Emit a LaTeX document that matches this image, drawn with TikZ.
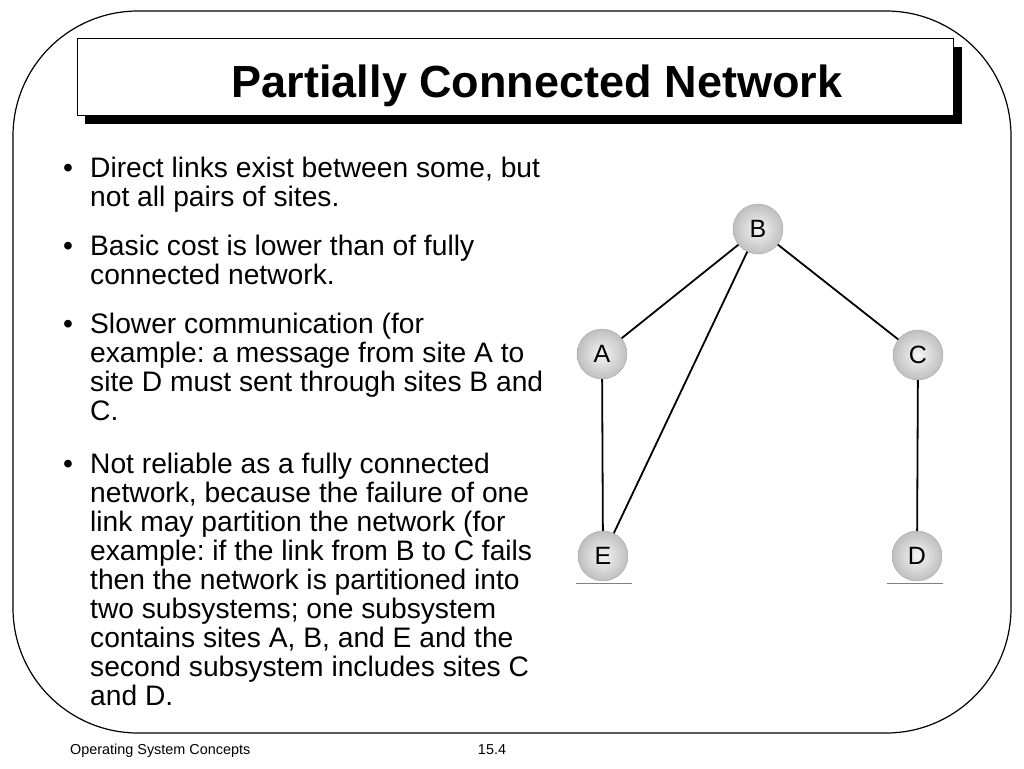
\documentclass[tikz,border=0pt]{standalone}
\usepackage{fontspec}
\setmainfont{Liberation Sans}
\usepackage{tikz}
\usetikzlibrary{shapes.geometric, positioning}
\frenchspacing

\tikzset{
    site/.style={circle, draw=gray!70, thin, inner color=gray!8, outer color=gray!50, minimum size=50pt, inner sep=0pt, font=\fontsize{25}{29}\selectfont}, % grey ball for a site
    link/.style={line width=1.8pt}, % line between two sites
    point/.style={anchor=base west, align=left, inner sep=0pt, font=\fontsize{28.2}{29}\selectfont} % one bullet point, placed at its last line
}

\begin{document}
\begin{tikzpicture}[x=1pt, y=-1pt]
    \useasboundingbox (0,0) rectangle (1024,768);

    % slide frame
    \draw[line width=1.2pt, rounded corners=125pt] (13,11) rectangle (1011,733);

    % title box with its shadow
    \fill[black] (85,47) rectangle (962,124);
    \draw[fill=white, line width=0.8pt] (77,38) rectangle (953,115);
    \node[anchor=base, inner sep=0pt, font=\fontsize{45}{50}\selectfont\bfseries] (title) at (537,97) {Partially Connected Network};

    % bullet points
    \node[point] (p1) at (63,206) {\makebox[27pt][l]{\textbullet}Direct links exist between some, but\\
        \hspace*{27pt}not all pairs of sites.};
    \node[point] (p2) at (63,284) {\makebox[27pt][l]{\textbullet}Basic cost is lower than of fully\\
        \hspace*{27pt}connected network.};
    \node[point] (p3) at (63,420) {\makebox[27pt][l]{\textbullet}Slower communication (for\\
        \hspace*{27pt}example: a message from site A to\\
        \hspace*{27pt}site D must sent through sites B and\\
        \hspace*{27pt}C.};
    \node[point] (p4) at (63,705) {\makebox[27pt][l]{\textbullet}Not reliable as a fully connected\\
        \hspace*{27pt}network, because the failure of one\\
        \hspace*{27pt}link may partition the network (for\\
        \hspace*{27pt}example: if the link from B to C fails\\
        \hspace*{27pt}then the network is partitioned into\\
        \hspace*{27pt}two subsystems; one subsystem\\
        \hspace*{27pt}contains sites A, B, and E and the\\
        \hspace*{27pt}second subsystem includes sites C\\
        \hspace*{27pt}and D.};

    % sites
    \node[site] (b) at (758,229) {B};
    \node[site] (a) at (602,354) {A};
    \node[site] (c) at (918,355) {C};
    \node[site] (e) at (603,556) {E};
    \node[site] (d) at (917,556) {D};

    % links
    \draw[link] (b) -- (a);
    \draw[link] (b) -- (e);
    \draw[link] (b) -- (c);
    \draw[link] (a) -- (e);
    \draw[link] (c) -- (d);

    % ground lines under E and D
    \draw[gray] ([xshift=-27pt, yshift=-2pt]e.south) -- ([xshift=29pt, yshift=-2pt]e.south);
    \draw[gray] ([xshift=-30pt, yshift=-2pt]d.south) -- ([xshift=26pt, yshift=-2pt]d.south);

    % footer
    \node[anchor=base west, inner sep=0pt, font=\fontsize{14.4}{17}\selectfont] (book) at (70,754) {Operating System Concepts};
    \node[anchor=base, inner sep=0pt, font=\fontsize{14.4}{17}\selectfont] (page) at (492,754) {15.4};
\end{tikzpicture}
\end{document}
